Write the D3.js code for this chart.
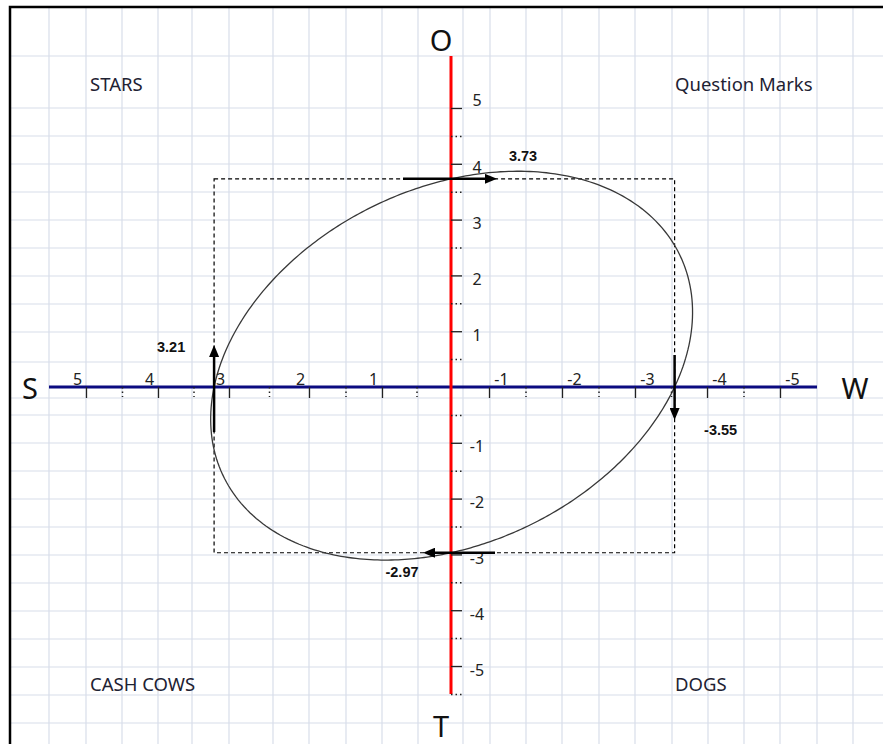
<!DOCTYPE html>
<html>
<head>
<meta charset="utf-8">
<script src="https://cdn.jsdelivr.net/npm/d3@7"></script>
<style>
  body { margin: 0; background: #fff; }
</style>
</head>
<body>
<svg id="chart" width="883" height="744"></svg>
<script>
const xTicks = [5, 4, 3, 2, 1, -1, -2, -3, -4, -5];
const xMinorTicks = [4.5, 3.5, 2.5, 1.5, 0.5, -1.5, -2.5, -3.5, -4.5];
const yTicks = [5, 4, 3, 2, 1, -1, -2, -3, -4, -5];
const yMinorTicks = [4.5, 3.5, 2.5, 1.5, 0.5, -0.5, -1.5, -2.5, -3.5, -4.5, -5.5];

// axis ends: top, right, bottom, left
const axisEnds = ['O', 'W', 'T', 'S'];
// quadrants: top-left, top-right, bottom-left, bottom-right
const quadrants = ['STARS', 'Question Marks', 'CASH COWS', 'DOGS'];

// where the loop crosses the axes, in the order it runs round
const crossLabels = ['3.73', '-3.55', '-2.97', '3.21'];
const crossX = [0, -3.55, 0, 3.21];
const crossY = [3.73, 0, -2.97, 0];

const LOOP_TILT = 0.55;

// spreadsheet cell edges behind the drawing
const colEdges = [10, 49, 86, 122, 158, 192, 229, 273, 309, 346, 382, 418, 463, 490,
  526, 562, 599, 635, 672, 708, 744, 780, 817, 853];
const rowEdges = [7, 56, 108, 136, 164, 192, 220, 248, 276, 304, 332, 362, 398, 415,
  443, 471, 499, 527, 555, 583, 611, 639, 667, 695, 723];

const FONT = "'Noto Sans', 'Open Sans', sans-serif";

const svg = d3.select('#chart');

// x runs right to left, and its unit steps are not all the same width
const x = d3.scaleLinear()
  .domain([5, 4, 3, 2, 1, 0, -1, -2, -3, -4, -5])
  .range([86, 158, 229, 309, 382, 451, 489, 562, 635, 707, 780]);

const y = d3.scaleLinear()
  .domain([5, -5])
  .range([108, 666]);

// cell grid
const grid = svg.append('g')
  .attr('class', 'layer layer-grid')
  .attr('stroke', '#d8deea')
  .attr('stroke-width', 1.2);

grid.selectAll('.col').data(colEdges.slice(1)).join('line')
  .attr('class', 'col')
  .attr('x1', d => d).attr('x2', d => d)
  .attr('y1', 7).attr('y2', 744);

grid.selectAll('.row').data(rowEdges.slice(1)).join('line')
  .attr('class', 'row')
  .attr('x1', 10).attr('x2', 883)
  .attr('y1', d => d).attr('y2', d => d);

svg.append('path')
  .attr('d', 'M10,744 V7 H883')
  .attr('fill', 'none')
  .attr('stroke', '#000')
  .attr('stroke-width', 2.5);

// quadrant names
const quadPos = [[90, 91], [675, 91], [90, 691], [675, 691]];
svg.append('g')
  .selectAll('text').data(quadrants).join('text')
  .attr('x', (d, i) => quadPos[i][0])
  .attr('y', (d, i) => quadPos[i][1])
  .attr('font-family', FONT)
  .attr('font-size', 18.5)
  .attr('fill', '#1e2233')
  .text(d => d);

// dashed box through the four crossings
const box = {
  x0: x(d3.max(crossX)), x1: x(d3.min(crossX)),
  y0: y(d3.max(crossY)), y1: y(d3.min(crossY)),
};
svg.append('rect')
  .attr('x', box.x0).attr('y', box.y0)
  .attr('width', box.x1 - box.x0)
  .attr('height', box.y1 - box.y0)
  .attr('fill', 'none')
  .attr('stroke', '#000')
  .attr('stroke-width', 1.2)
  .attr('stroke-dasharray', '4,3');

// loop: a tilted ellipse through the four axis crossings
const ox = x(0), oy = y(0);
const uR = x(crossX[1]) - ox, uL = x(crossX[3]) - ox;
const vT = y(crossY[0]) - oy, vB = y(crossY[2]) - oy;
const ca = -1 / (uR * uL), cd = -ca * (uR + uL);
const cc = -1 / (vT * vB), ce = -cc * (vT + vB);
const cb = LOOP_TILT * Math.sqrt(ca * cc);

const loopPts = d3.range(0, 360, 1).map(deg => {
  const t = deg * Math.PI / 180, cu = Math.cos(t), sv = Math.sin(t);
  const A = ca * cu * cu + cb * cu * sv + cc * sv * sv;
  const B = cd * cu + ce * sv;
  const r = (-B + Math.sqrt(B * B + 4 * A)) / (2 * A);
  return [ox + r * cu, oy + r * sv];
});

svg.append('path')
  .attr('d', d3.line().curve(d3.curveLinearClosed)(loopPts))
  .attr('fill', 'none')
  .attr('stroke', '#383838')
  .attr('stroke-width', 1.3);

// axes
svg.append('line')
  .attr('x1', x(5) - 37).attr('x2', x(-5) + 37)
  .attr('y1', y(0)).attr('y2', y(0))
  .attr('stroke', '#0b0b80')
  .attr('stroke-width', 3.2);

svg.append('line')
  .attr('x1', x(0)).attr('x2', x(0))
  .attr('y1', 56).attr('y2', y(-5.5))
  .attr('stroke', '#ff0000')
  .attr('stroke-width', 3);

svg.append('g')
  .attr('transform', `translate(0,${y(0)})`)
  .call(d3.axisBottom(x).tickValues(xMinorTicks).tickSize(10).tickFormat(() => ''))
  .call(g => g.select('.domain').remove())
  .call(g => g.selectAll('.tick line')
    .attr('stroke', '#222').attr('stroke-width', 1.5).attr('stroke-dasharray', '1.5,3'));

svg.append('g')
  .attr('transform', `translate(${x(0)},0)`)
  .call(d3.axisRight(y).tickValues(yMinorTicks).tickSize(11).tickFormat(() => ''))
  .call(g => g.select('.domain').remove())
  .call(g => g.selectAll('.tick line')
    .attr('stroke', '#222').attr('stroke-width', 1.5).attr('stroke-dasharray', '1.5,3'));

svg.append('g')
  .attr('transform', `translate(0,${y(0)})`)
  .call(d3.axisBottom(x).tickValues(xTicks).tickSize(11).tickFormat(d => String(d)))
  .call(g => g.select('.domain').remove())
  .call(g => g.selectAll('.tick line').attr('stroke', '#222').attr('stroke-width', 1.3))
  .call(g => g.selectAll('.tick text')
    .attr('x', d => d > 0 ? -9 : 12)
    .attr('y', -2)
    .attr('dy', null)
    .attr('fill', '#222')
    .attr('font-family', FONT)
    .attr('font-size', 16));

svg.append('g')
  .attr('transform', `translate(${x(0)},0)`)
  .call(d3.axisRight(y).tickValues(yTicks).tickSize(11).tickFormat(d => String(d)))
  .call(g => g.select('.domain').remove())
  .call(g => g.selectAll('.tick line').attr('stroke', '#222').attr('stroke-width', 1.3))
  .call(g => g.selectAll('.tick text')
    .attr('x', 26)
    .attr('y', d => d === 5 ? -8 : 4)
    .attr('text-anchor', 'middle')
    .attr('fill', '#222')
    .attr('font-family', FONT)
    .attr('font-size', 16));

// axis end letters
const endPos = [[x(0) - 10, 39], [855, y(0)], [x(0) - 10, 725], [30, y(0)]];
svg.append('g')
  .selectAll('text').data(axisEnds).join('text')
  .attr('x', (d, i) => endPos[i][0])
  .attr('y', (d, i) => endPos[i][1])
  .attr('text-anchor', 'middle')
  .attr('dominant-baseline', 'central')
  .attr('font-family', FONT)
  .attr('font-size', 29)
  .attr('fill', '#111')
  .text(d => d);

// direction arrows at the crossings
svg.append('defs').append('marker')
  .attr('id', 'head')
  .attr('viewBox', '0 0 12 10')
  .attr('refX', 0).attr('refY', 5)
  .attr('markerWidth', 12).attr('markerHeight', 10)
  .attr('markerUnits', 'userSpaceOnUse')
  .attr('orient', 'auto')
  .append('path')
    .attr('d', 'M0,0 L12,5 L0,10 Z')
    .attr('fill', '#000');

const arrowDir = [[1, 0], [0, 1], [-1, 0], [0, -1]];
const arrowSpan = [[48, 46], [32, 33], [44, 28], [45, 42]];
const labelOff = [[72, -23], [46, 43], [-49, 19], [-43, -40]];

const crossings = crossLabels.map((label, i) => ({
  label, px: x(crossX[i]), py: y(crossY[i]),
  dir: arrowDir[i], span: arrowSpan[i], off: labelOff[i],
}));

svg.append('g')
  .selectAll('line').data(crossings).join('line')
  .attr('x1', d => d.px - d.dir[0] * d.span[0])
  .attr('y1', d => d.py - d.dir[1] * d.span[0])
  .attr('x2', d => d.px + d.dir[0] * (d.span[1] - 12))
  .attr('y2', d => d.py + d.dir[1] * (d.span[1] - 12))
  .attr('stroke', '#000')
  .attr('stroke-width', 2.5)
  .attr('marker-end', 'url(#head)');

svg.append('g')
  .selectAll('text').data(crossings).join('text')
  .attr('x', d => d.px + d.off[0])
  .attr('y', d => d.py + d.off[1])
  .attr('text-anchor', 'middle')
  .attr('dominant-baseline', 'central')
  .attr('font-family', "'Liberation Sans', Arial, sans-serif")
  .attr('font-weight', 'bold')
  .attr('font-size', 14.5)
  .attr('fill', '#111')
  .text(d => d.label);
</script>
</body>
</html>
